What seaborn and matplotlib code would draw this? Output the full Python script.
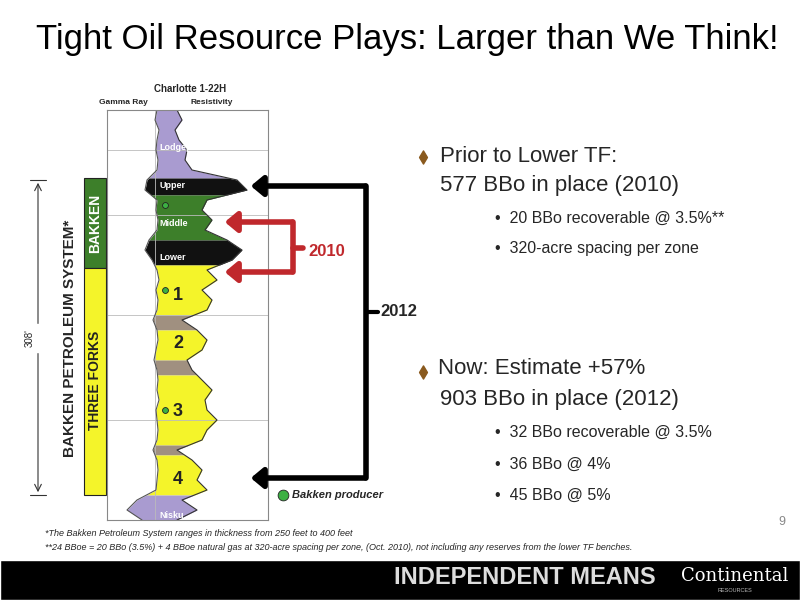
import numpy as np
import pandas as pd
import matplotlib
matplotlib.use("Agg")
import matplotlib.pyplot as plt
import seaborn as sns
from matplotlib.patches import Rectangle

sns.set_theme(style="white")
plt.rcParams['font.family'] = ['Liberation Sans', 'DejaVu Sans']

# ---- data ----
depth = list(range(0, 420, 10))
resist = [70, 75, 68, 72, 80, 78, 85, 130, 140, 100, 95, 105, 98, 120, 135, 125, 100, 110, 95, 105,
          100, 75, 90, 100, 95, 80, 85, 95, 105, 98, 100, 110, 100, 95, 70, 85, 95, 90, 100, 75, 90, 70]
gamma = [50, 48, 52, 50, 49, 51, 50, 40, 38, 50, 49, 51, 50, 42, 38, 45, 50, 52, 49, 51,
         50, 46, 50, 51, 49, 47, 50, 51, 50, 52, 49, 50, 51, 50, 46, 50, 51, 50, 49, 30, 20, 35]
zone_names = ["Lodgepole", "Upper", "Middle", "Lower", "1", "sh", "2", "sh", "3", "sh", "4", "Nisku"]
zone_tops = [0, 68, 85, 130, 155, 205, 220, 250, 265, 335, 345, 385]
zone_bots = [68, 85, 130, 155, 205, 220, 250, 265, 335, 345, 385, 410]
zone_colors = ["#a99bd0", "#111111", "#3d7f2a", "#111111", "#f4f42a", "#a09080", "#f4f42a", "#a09080",
               "#f4f42a", "#a09080", "#f4f42a", "#a99bd0"]
producer_depths = [95, 180, 300]

fig = plt.figure(figsize=(8, 6), dpi=100)
bg = fig.add_axes([0, 0, 1, 1])
bg.set_xlim(0, 800); bg.set_ylim(600, 0); bg.axis("off")

# log track
ax = fig.add_axes([107/800, 1-520/600, 161/800, 410/600])
ax.set_xlim(0, 161); ax.set_ylim(410, 0)
ax.set_xticks([]); ax.set_yticks([])
for s in ax.spines.values():
    s.set_color("#888888"); s.set_linewidth(0.8)
for y in [40, 105, 205, 310]:
    ax.axhline(y, color="#bbbbbb", lw=0.6)
ax.axvline(48, color="#bbbbbb", lw=0.6)
fine = np.arange(0, 410.5, 0.5)
r = np.interp(fine, depth, resist)
g = np.interp(fine, depth, gamma)
for t, b, c in zip(zone_tops, zone_bots, zone_colors):
    m = (fine >= t) & (fine <= b)
    ax.fill_betweenx(fine, g, r, where=m, color=c, lw=0)
df = pd.DataFrame({"depth": depth, "resist": resist, "gamma": gamma})
sns.lineplot(data=df, x="resist", y="depth", sort=False, orient="y", ax=ax, color="#333333", lw=0.8)
sns.lineplot(data=df, x="gamma", y="depth", sort=False, orient="y", ax=ax, color="#555555", lw=0.8)
ax.set_xlabel(""); ax.set_ylabel("")
ax.set_xlim(0, 161); ax.set_ylim(410, 0)
lbl = {"Lodgepole": 38, "Upper": 76, "Middle": 114, "Lower": 147, "Nisku": 405}
for n, y in lbl.items():
    ax.text(52, y, n, color="white", fontsize=6.5, fontweight="bold", va="center")
for n, y in zip(["1", "2", "3", "4"], [185, 233, 302, 370]):
    ax.text(66, y, n, fontsize=13, fontweight="bold", va="center", color="#222222")
ax.scatter([58] * len(producer_depths), producer_depths, s=18, color="#3cb043", edgecolor="#222222", lw=0.6, zorder=5)

# overlay for arrows
ov = fig.add_axes([0, 0, 1, 1])
ov.set_xlim(0, 800); ov.set_ylim(600, 0); ov.axis("off"); ov.patch.set_alpha(0)

# headers
bg.text(36, 40, "Tight Oil Resource Plays: Larger than We Think!", fontsize=25, va="center", color="black")
bg.text(190, 92, "Charlotte 1-22H", fontsize=7, fontweight="bold", ha="center")
bg.text(123, 104, "Gamma Ray", fontsize=6, fontweight="bold", ha="center")
bg.text(212, 104, "Resistivity", fontsize=6, fontweight="bold", ha="center")

# side bands
bg.add_patch(Rectangle((84, 178), 22, 90, fc="#3d7f2a", ec="#222222", lw=0.8))
bg.add_patch(Rectangle((84, 268), 22, 227, fc="#f4f42a", ec="#222222", lw=0.8))
bg.text(95, 223, "BAKKEN", rotation=90, ha="center", va="center", color="white", fontsize=10, fontweight="bold")
bg.text(95, 380, "THREE FORKS", rotation=90, ha="center", va="center", color="#222222", fontsize=10, fontweight="bold")
bg.text(70, 338, "BAKKEN PETROLEUM SYSTEM*", rotation=90, ha="center", va="center", fontsize=11, fontweight="bold")
bg.annotate("", xy=(38, 180), xytext=(38, 495), arrowprops=dict(arrowstyle="<->", lw=0.8, color="#333"))
bg.plot([30, 46], [180, 180], color="#333", lw=0.8); bg.plot([30, 46], [495, 495], color="#333", lw=0.8)
bg.text(30, 338, "308'", rotation=90, ha="center", va="center", fontsize=7, backgroundcolor="white")

# 2010 red bracket
red = "#c0282c"
ov.plot([293, 293], [222, 272], color=red, lw=4)
ov.plot([293, 303], [248, 248], color=red, lw=4)
for y in [222, 272]:
    ov.annotate("", xy=(222, y), xytext=(295, y),
                arrowprops=dict(arrowstyle="-|>,head_width=0.5,head_length=0.6", lw=4, color=red))
ov.text(308, 252, "2010", color=red, fontsize=12, fontweight="bold", va="center")

# 2012 black bracket
ov.plot([366, 366], [186, 478], color="black", lw=4)
ov.plot([366, 378], [312, 312], color="black", lw=3)
for y in [186, 478]:
    ov.annotate("", xy=(248, y), xytext=(368, y),
                arrowprops=dict(arrowstyle="-|>,head_width=0.5,head_length=0.6", lw=4, color="black"))
ov.text(380, 312, "2012", fontsize=12, fontweight="bold", va="center")

bg.scatter([283], [495], s=60, color="#3cb043", edgecolor="#222", lw=0.6)
bg.text(292, 495, "Bakken producer", fontsize=8, fontweight="bold", fontstyle="italic", va="center")

# bullets
brown = "#8a5a1e"
bg.scatter([423, 423], [157, 372], marker="d", s=45, color=brown)
bg.text(440, 157, "Prior to Lower TF:", fontsize=16, va="center")
bg.text(440, 186, "577 BBo in place (2010)", fontsize=16, va="center")
bg.text(495, 218, "•  20 BBo recoverable @ 3.5%**", fontsize=11.5, va="center")
bg.text(495, 248, "•  320-acre spacing per zone", fontsize=11.5, va="center")
bg.text(438, 368, "Now: Estimate +57%", fontsize=16, va="center")
bg.text(440, 400, "903 BBo in place (2012)", fontsize=16, va="center")
bg.text(495, 432, "•  32 BBo recoverable @ 3.5%", fontsize=11.5, va="center")
bg.text(495, 464, "•  36 BBo @ 4%", fontsize=11.5, va="center")
bg.text(495, 495, "•  45 BBo @ 5%", fontsize=11.5, va="center")

bg.text(45, 533, "*The Bakken Petroleum System ranges in thickness from 250 feet to 400 feet", fontsize=6.5, fontstyle="italic", va="center")
bg.text(45, 547, "**24 BBoe = 20 BBo (3.5%) + 4 BBoe natural gas at 320-acre spacing per zone, (Oct. 2010), not including any reserves from the lower TF benches.",
        fontsize=6.5, fontstyle="italic", va="center")
bg.text(785, 522, "9", fontsize=9, color="#888888", ha="right", va="center")

# bottom band
bg.add_patch(Rectangle((0, 560), 800, 40, fc="black"))
bg.text(525, 578, "INDEPENDENT MEANS", color="#dddddd", fontsize=17, fontweight="bold", ha="center", va="center")
bg.text(735, 576, "Continental", color="white", fontsize=13, family="DejaVu Serif", ha="center", va="center")
bg.text(735, 591, "RESOURCES", color="#bbbbbb", fontsize=4, ha="center", va="center")

fig.savefig("out.png", dpi=100)
